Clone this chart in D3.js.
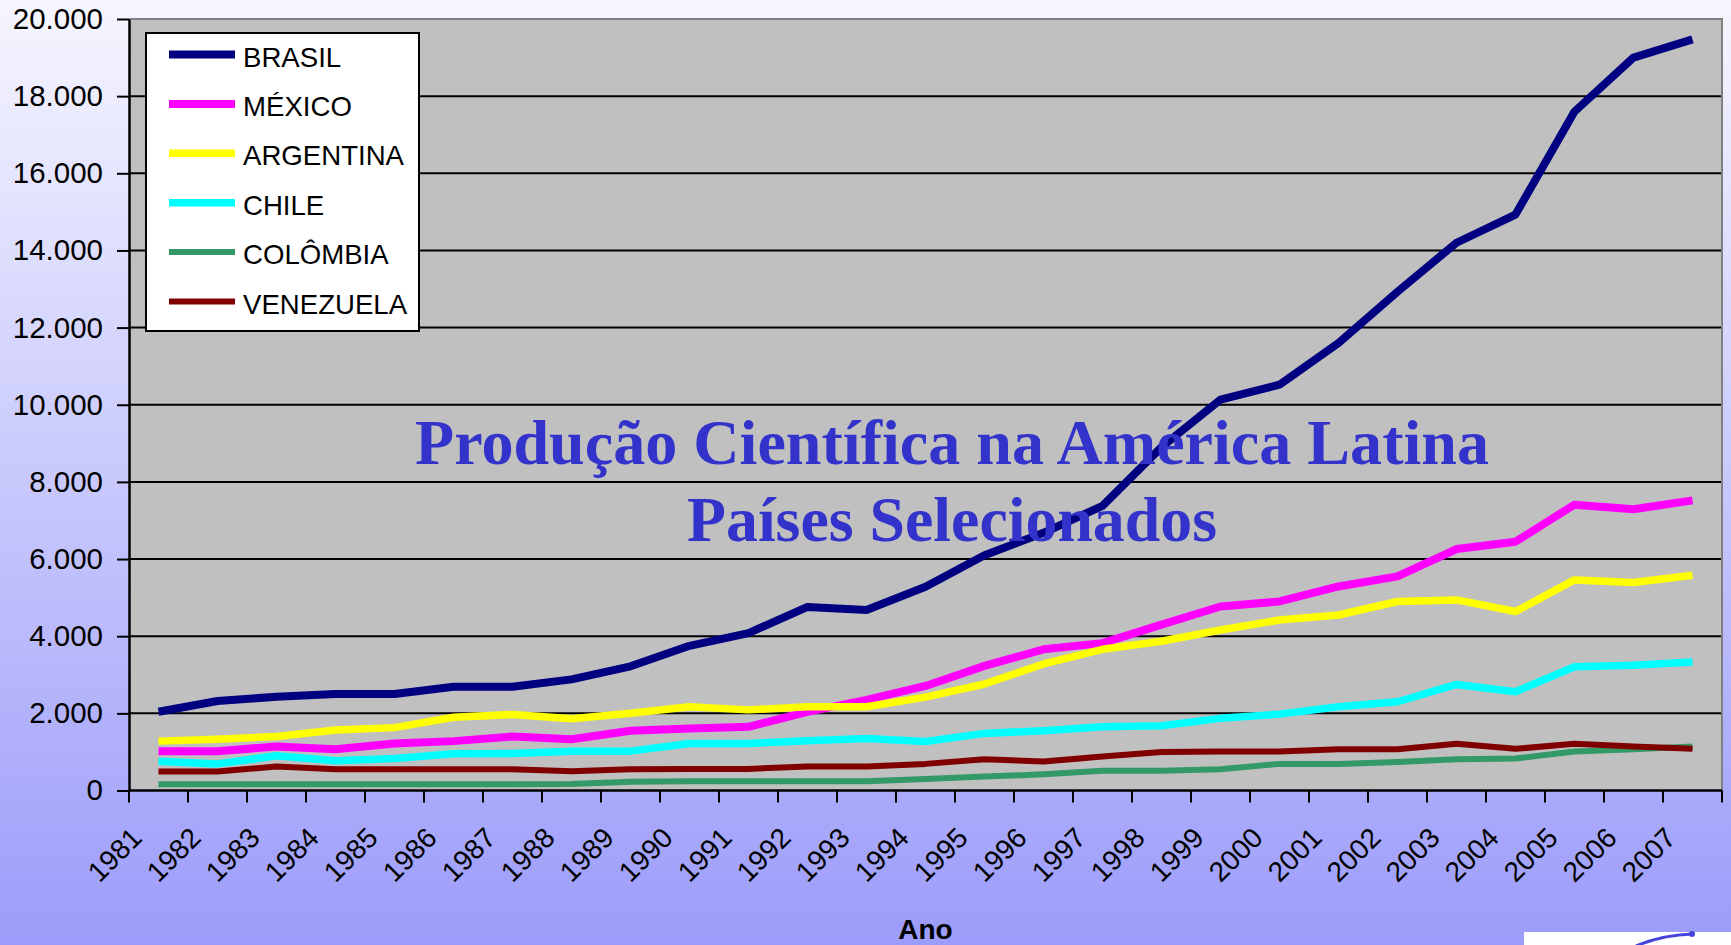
<!DOCTYPE html>
<html>
<head>
<meta charset="utf-8">
<script src="https://cdn.jsdelivr.net/npm/d3@7"></script>
<style>
  html, body { margin: 0; padding: 0; overflow: hidden; }
  svg { display: block; font-family: "Liberation Sans", Arial, sans-serif; }
</style>
</head>
<body>
<svg id="chart" width="1731" height="945"></svg>
<script>
// categorias (anos)
const years = ["1981","1982","1983","1984","1985","1986","1987","1988","1989","1990",
  "1991","1992","1993","1994","1995","1996","1997","1998","1999","2000",
  "2001","2002","2003","2004","2005","2006","2007"];

const brasil    = [2040,2320,2430,2500,2500,2690,2690,2880,3220,3750,4080,4760,4680,5280,6100,6680,7380,8900,10130,10520,11600,12930,14200,14930,17600,19000,19470];
const mexico    = [1020,1020,1140,1070,1220,1280,1400,1330,1550,1610,1650,2040,2350,2710,3230,3660,3820,4300,4770,4900,5290,5550,6260,6450,7410,7290,7520];
const argentina = [1280,1330,1400,1570,1630,1900,1970,1860,2000,2170,2090,2170,2170,2420,2760,3280,3660,3870,4160,4420,4550,4900,4940,4640,5460,5390,5580];
const chile     = [760,690,900,770,830,950,960,1020,1020,1220,1220,1290,1350,1270,1480,1550,1650,1680,1870,1980,2170,2300,2750,2560,3210,3250,3330];
const colombia  = [160,160,160,160,160,160,160,170,230,240,240,240,240,300,360,420,510,510,550,690,690,740,810,830,1010,1070,1140];
const venezuela = [490,490,620,550,550,550,550,500,550,560,560,620,620,690,810,750,880,1000,1010,1010,1070,1070,1210,1080,1210,1140,1080];

const seriesNames = ["BRASIL", "MÉXICO", "ARGENTINA", "CHILE", "COLÔMBIA", "VENEZUELA"];
const seriesValues = [brasil, mexico, argentina, chile, colombia, venezuela];
const seriesColors = ["#000080", "#ff00ff", "#ffff00", "#00ffff", "#339966", "#800000"];
const seriesWidths = [8, 8, 7.5, 7.5, 6, 6];

const yTicks = [0, 2000, 4000, 6000, 8000, 10000, 12000, 14000, 16000, 18000, 20000];

const titleLines = ["Produção Científica na América Latina", "Países Selecionados"];
const xTitle = "Ano";

const W = 1731, H = 945;
const plot = { left: 129, right: 1722, top: 19, bottom: 790.5 };

const ptBR = d3.formatLocale({ decimal: ",", thousands: ".", grouping: [3], currency: ["R$", ""] });
const fmt = ptBR.format(",");

const svg = d3.select("#chart");

// fundo em degradê
const defs = svg.append("defs");
const grad = defs.append("linearGradient").attr("id", "bg").attr("x1", 0).attr("y1", 0).attr("x2", 0).attr("y2", 1);
grad.append("stop").attr("offset", "0%").attr("stop-color", "#f6f6ff");
grad.append("stop").attr("offset", "100%").attr("stop-color", "#9c9cfa");
svg.append("rect").attr("width", W).attr("height", H).attr("fill", "url(#bg)");

const xScale = d3.scaleBand().domain(years).range([plot.left, plot.right]);
const yScale = d3.scaleLinear().domain([0, 20000]).range([plot.bottom, plot.top]);
const xMid = d => xScale(d) + xScale.bandwidth() / 2;

// área do gráfico
svg.append("rect")
    .attr("x", plot.left).attr("y", plot.top)
    .attr("width", plot.right - plot.left).attr("height", plot.bottom - plot.top)
    .attr("fill", "#c0c0c0");

// linhas de grade
svg.append("g").selectAll("line")
    .data(yTicks.filter(t => t > 0 && t < 20000))
    .enter().append("line")
    .attr("x1", plot.left).attr("x2", plot.right)
    .attr("y1", d => yScale(d)).attr("y2", d => yScale(d))
    .attr("stroke", "#000").attr("stroke-width", 2);

// borda superior e direita (cinza)
svg.append("path")
    .attr("d", `M${plot.left},${plot.top}H${plot.right}V${plot.bottom}`)
    .attr("fill", "none").attr("stroke", "#808080").attr("stroke-width", 2);

// séries
const line = d3.line()
    .x((d, i) => xMid(years[i]))
    .y(d => yScale(d));

svg.append("g").selectAll("path")
    .data(seriesValues)
    .enter().append("path")
    .attr("d", line)
    .attr("fill", "none")
    .attr("stroke", (d, i) => seriesColors[i])
    .attr("stroke-width", (d, i) => seriesWidths[i])
    .attr("stroke-linejoin", "round");

// eixo Y
const yAxis = svg.append("g")
    .attr("transform", `translate(${plot.left},0)`)
    .call(d3.axisLeft(yScale).tickValues(yTicks).tickFormat(fmt).tickSize(12).tickSizeOuter(0).tickPadding(14));
yAxis.select(".domain").attr("stroke", "#000").attr("stroke-width", 2.5);
yAxis.selectAll(".tick line").attr("stroke", "#000").attr("stroke-width", 2);
yAxis.selectAll(".tick text")
    .attr("font-size", 29.5).attr("fill", "#000")
    .attr("font-family", "Liberation Sans, Arial, sans-serif");

// eixo X (marcas entre as categorias)
const xTickPos = years.map(d => xScale(d)).concat([plot.right]);
const xAxis = svg.append("g");
xAxis.append("line")
    .attr("x1", plot.left).attr("x2", plot.right)
    .attr("y1", plot.bottom).attr("y2", plot.bottom)
    .attr("stroke", "#000").attr("stroke-width", 2.5);
xAxis.selectAll(".xtick")
    .data(xTickPos)
    .enter().append("line")
    .attr("class", "xtick")
    .attr("x1", d => d).attr("x2", d => d)
    .attr("y1", plot.bottom).attr("y2", plot.bottom + 12)
    .attr("stroke", "#000").attr("stroke-width", 2);
xAxis.selectAll(".xlabel")
    .data(years)
    .enter().append("text")
    .attr("class", "xlabel")
    .attr("transform", d => `translate(${xMid(d) - 15},${plot.bottom + 49}) rotate(-45)`)
    .attr("text-anchor", "end")
    .attr("font-size", 28)
    .attr("fill", "#000")
    .text(d => d);

// título do eixo X
svg.append("text")
    .attr("x", (plot.left + plot.right) / 2).attr("y", 939)
    .attr("text-anchor", "middle")
    .attr("font-size", 28).attr("font-weight", "bold")
    .text(xTitle);

// legenda
const legend = svg.append("g");
legend.append("rect")
    .attr("x", 146).attr("y", 33).attr("width", 273).attr("height", 298)
    .attr("fill", "#fff").attr("stroke", "#000").attr("stroke-width", 2);
const items = legend.selectAll(".item")
    .data(seriesNames)
    .enter().append("g")
    .attr("class", "item")
    .attr("transform", (d, i) => `translate(0,${54.5 + i * 49.4})`);
items.append("line")
    .attr("x1", 169).attr("x2", 235)
    .attr("stroke", (d, i) => seriesColors[i])
    .attr("stroke-width", (d, i) => seriesWidths[i]);
items.append("text")
    .attr("x", 243).attr("y", 12)
    .attr("font-size", 27.6).attr("fill", "#000")
    .text(d => d);

// título sobre o gráfico
const titleWidths = [1074, 530];
svg.append("g").selectAll("text")
    .data(titleLines)
    .enter().append("text")
    .attr("x", 952)
    .attr("y", (d, i) => i === 0 ? 464 : 541)
    .attr("text-anchor", "middle")
    .attr("font-family", "Liberation Serif, Times New Roman, serif")
    .attr("font-weight", "bold")
    .attr("font-size", 64)
    .attr("fill", "#3333cc")
    .attr("textLength", (d, i) => titleWidths[i])
    .attr("lengthAdjust", "spacingAndGlyphs")
    .text(d => d);

// detalhe do logotipo no canto inferior direito
const logo = svg.append("g");
logo.append("rect").attr("x", 1524).attr("y", 932).attr("width", 207).attr("height", 13).attr("fill", "#fff");
logo.append("path")
    .attr("d", "M1636,946 Q1662,935 1692,934")
    .attr("fill", "none").attr("stroke", "#4444dd").attr("stroke-width", 3);
logo.append("circle").attr("cx", 1692).attr("cy", 934).attr("r", 3).attr("fill", "#4444dd");
</script>
</body>
</html>
